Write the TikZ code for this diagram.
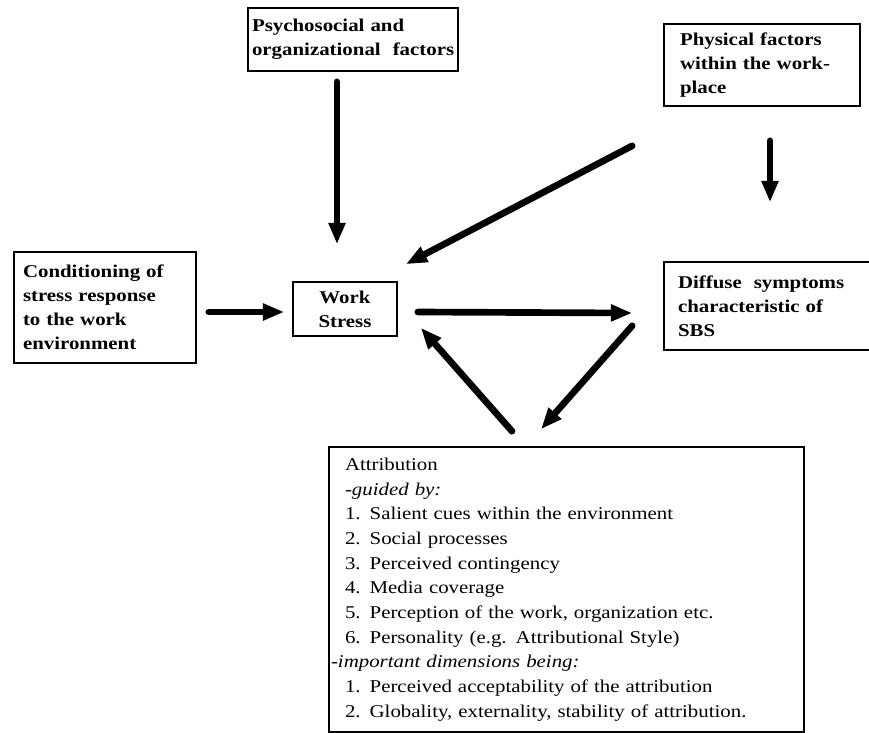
\documentclass[tikz,border=0pt]{standalone}
\usepackage{fontspec}
\setmainfont{Liberation Serif}[FakeStretch=1.16]
\usepackage{tikz}
\usetikzlibrary{
arrows.meta,
positioning,
calc
}

\begin{document}
\begin{tikzpicture}[
  x=0.75pt, y=-0.75pt,
  >={Triangle[length=16pt, width=12pt]},
  box/.style={draw, line width=1.2pt, rectangle, inner ysep=0pt, align=left},
  factorbox/.style={box, font=\fontsize{13.5}{18}\selectfont\bfseries},
  attrbox/.style={box, font=\fontsize{13.5}{18.5}\selectfont},
  arr/.style={->, line width=5pt, line cap=round}
]

%% ── FRAME ───────────────────────────────────────────────────────
\clip (0,0) rectangle (869,733);

%% ── FACTORS ─────────────────────────────────────────────────────
\node[factorbox, minimum width=157.5pt, minimum height=47.25pt,
      inner xsep=3pt, text width=151.5pt] (psych) at (353,39.5)
  {Psychosocial and\\\mbox{organizational\ \ factors}};

\node[factorbox, minimum height=61.5pt, inner xsep=12pt,
      text width=123pt] (phys) at (762,65)
  {Physical factors\\within the work-\\place};

\node[factorbox, minimum height=83.25pt, inner xsep=6.75pt,
      text width=123pt] (cond) at (105,307.5)
  {Conditioning of\\stress response\\to the work\\environment};

%% ── WORK STRESS / SYMPTOMS ──────────────────────────────────────
\node[factorbox, align=center, minimum width=78pt,
      minimum height=40.5pt] (ws) at (345,309)
  {Work\\Stress};

\node[factorbox, minimum height=66pt, inner xsep=10.5pt,
      text width=144pt] (diff) at (774,306)
  {Diffuse\ \ symptoms\\characteristic of\\SBS};

%% ── ATTRIBUTION ─────────────────────────────────────────────────
\node[attrbox, minimum height=213.75pt, inner xsep=12pt,
      text width=332.25pt] (attr) at (566.5,589.5)
  {Attribution\\
   \textit{-guided by:}\\
   1. Salient cues within the environment\\
   2. Social processes\\
   3. Perceived contingency\\
   4. Media coverage\\
   5. Perception of the work, organization etc.\\
   6. Personality (e.g. Attributional Style)\\
   \hspace*{-10.5pt}\textit{-important dimensions being:}\\
   1. Perceived acceptability of the attribution\\
   2. Globality, externality, stability of attribution.};

%% ── ARROWS ──────────────────────────────────────────────────────
\draw[arr] ($(psych.south)+(-16,10)$) -- ($(ws.north)+(-8,-37)$);
\draw[arr] ($(phys.south west)+(-31,39)$) -- ($(ws.north east)+(8,-17)$);
\draw[arr] ($(phys.south)+(8,34)$) -- ($(diff.north)+(-4,-59)$);
\draw[arr] ($(cond.east)+(12,4.5)$) -- ($(ws.west)+(-8,3)$);
\draw[arr] ($(ws.east)+(20,3)$) -- ($(diff.west)+(-31,7)$);
\draw[arr] ($(diff.south west)+(-31,-25)$) -- ($(attr.north)+(-25.5,-17)$);
\draw[arr] ($(attr.north)+(-54.5,-15)$) -- ($(ws.south east)+(23,-9)$);

\end{tikzpicture}
\end{document}
